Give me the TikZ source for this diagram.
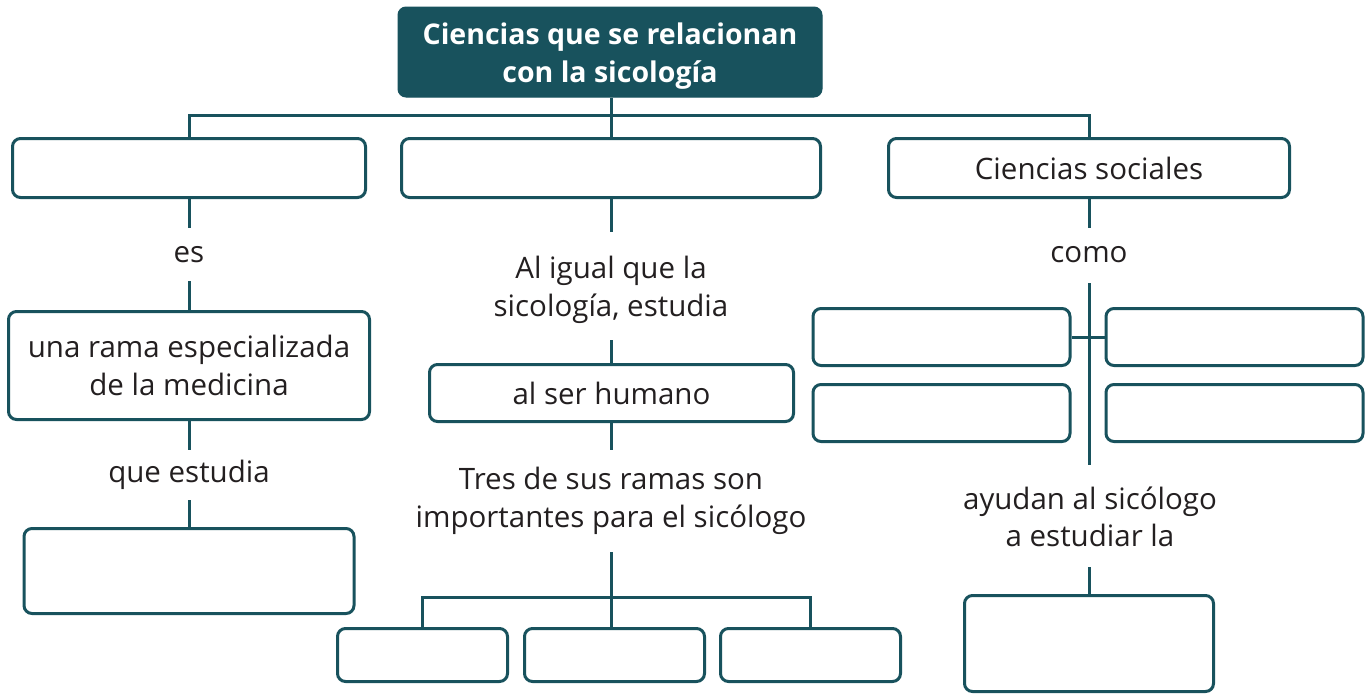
\documentclass[tikz,border=0pt]{standalone}
\usepackage{fontspec}
\setmainfont{Open Sans}
\definecolor{teal}{HTML}{18525D}
\definecolor{ink}{HTML}{231F20}
\tikzset{
  box/.style={draw=teal, line width=3pt, rounded corners=8pt, fill=white, inner sep=0pt},
  titlebox/.style={draw=teal, fill=teal, line width=1pt, rounded corners=8pt, inner sep=0pt, text=white,
    font=\fontsize{28.5}{37.5}\selectfont\bfseries, align=center},
  lbl/.style={font=\fontsize{29.5}{37.5}\selectfont, text=ink, align=center, inner sep=0pt},
  conn/.style={draw=teal, line width=3pt},
}
\begin{document}
\begin{tikzpicture}[x=1pt,y=-1pt]
\useasboundingbox (0,0) rectangle (1368,696);
% top
\node[titlebox, minimum width=424pt, minimum height=90pt] (top) at (610,52) {\rule{0pt}{30pt}Ciencias que se relacionan\\con la sicología};
% row 1
\node[box, minimum width=353pt, minimum height=59pt] (A) at (189,168) {};
\node[box, minimum width=419pt, minimum height=59pt] (B) at (611,168) {};
\node[box, minimum width=401pt, minimum height=59pt, lbl] (C) at (1089,168) {Ciencias sociales};
\coordinate (bus) at (611,115);
\draw[conn] (bus |- top.south) -- (bus);
\draw[conn] (A.north) |- (bus) -| (C.north);
\draw[conn] (bus) -- (B.north);
% left column
\node[lbl, anchor=base] (es) at (189,262) {es};
\node[box, lbl, minimum width=361pt, minimum height=108pt] (R) at (189,365.5) {una rama especializada\\de la medicina};
\node[lbl, anchor=base] (qe) at (189,482) {que estudia};
\node[box, minimum width=330pt, minimum height=85pt] (Q) at (189,571) {};
\coordinate (l1) at (189,228);
\coordinate (l2) at (189,281);
\coordinate (l3) at (189,450);
\coordinate (l4) at (189,500);
\draw[conn] (A.south) -- (l1);
\draw[conn] (l2) -- (l2 |- R.north);
\draw[conn] (l3 |- R.south) -- (l3);
\draw[conn] (l4) -- (Q.north);
% middle column
\node[lbl] (ai) at (611,290) {Al igual que la\\sicología, estudia};
\node[box, lbl, minimum width=364pt, minimum height=57pt] (H) at (611.5,393) {al ser humano};
\node[lbl] (tr) at (611,501) {Tres de sus ramas son\\importantes para el sicólogo};
\node[box, minimum width=170pt, minimum height=53pt] (b1) at (422.5,655) {};
\node[box, minimum width=180pt, minimum height=53pt] (b2) at (614.5,655) {};
\node[box, minimum width=180pt, minimum height=53pt] (b3) at (810.5,655) {};
\coordinate (m1) at (611,232);
\coordinate (m2) at (611,340);
\coordinate (m3) at (611,450);
\coordinate (m4) at (611,552);
\coordinate (mbus) at (611,597);
\draw[conn] (B.south) -- (m1);
\draw[conn] (m2) -- (m2 |- H.north);
\draw[conn] (m3 |- H.south) -- (m3);
\draw[conn] (m4) -- (mbus) -- (mbus |- b2.north);
\draw[conn] (b1.north) |- (mbus) -| (b3.north);
% right column
\node[lbl, anchor=base] (como) at (1089,262) {como};
\node[box, minimum width=257pt, minimum height=57pt] (L1) at (941.5,337) {};
\node[box, minimum width=257pt, minimum height=57pt] (R1) at (1234.5,337) {};
\node[box, minimum width=257pt, minimum height=57pt] (L2) at (941.5,413) {};
\node[box, minimum width=257pt, minimum height=57pt] (R2) at (1234.5,413) {};
\node[lbl] (ay) at (1090,517) {ayudan al sicólogo\\a estudiar la};
\node[box, minimum width=249pt, minimum height=96pt] (G) at (1089,643.5) {};
\coordinate (r1) at (1089,228);
\coordinate (r2) at (1089,283);
\coordinate (r3) at (1089,465);
\coordinate (r4) at (1089,567);
\draw[conn] (C.south) -- (r1);
\draw[conn] (r2) -- (r3);
\draw[conn] (L1.east) -- (R1.west);
\draw[conn] (r4) -- (G.north);
\end{tikzpicture}
\end{document}
